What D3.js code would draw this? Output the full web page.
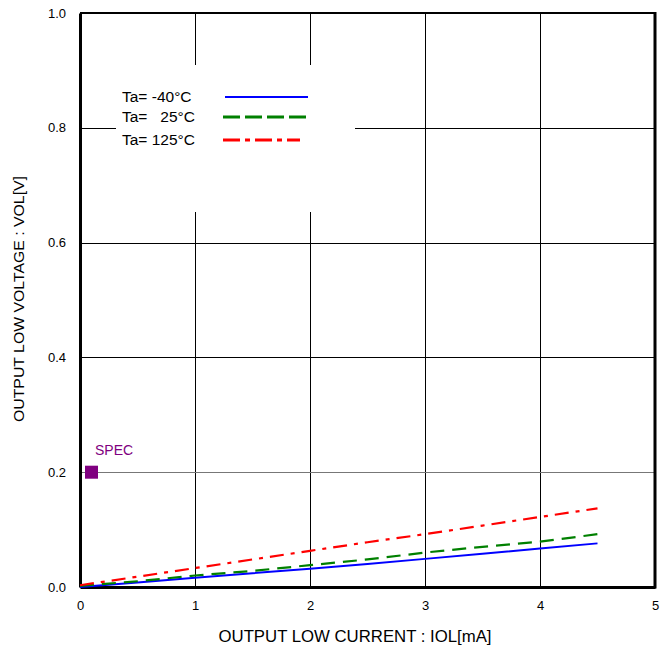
<!DOCTYPE html>
<html><head><meta charset="utf-8">
<script src="https://cdn.jsdelivr.net/npm/d3@7/dist/d3.min.js"></script>
<style>body{margin:0;background:#fff}svg{display:block}text{font-family:"Liberation Sans",Arial,sans-serif}</style>
</head><body><div id="chart"></div>
<script>
const xTicks = [0,1,2,3,4,5];
const yTicks = [0.0,0.2,0.4,0.6,0.8,1.0];
const currents = [0,0.5,1,1.5,2,2.5,3,3.5,4,4.5];
const volM40 = [0,0.008,0.016,0.024,0.032,0.040,0.049,0.058,0.067,0.076];
const vol25  = [0.002,0.010,0.020,0.028,0.038,0.048,0.060,0.070,0.079,0.092];
const vol125 = [0.003,0.018,0.033,0.048,0.063,0.078,0.092,0.107,0.122,0.137];
const seriesNames = ["Ta= -40\u00B0C","Ta=   25\u00B0C","Ta= 125\u00B0C"];
const specPoint = [0.1,0.2];

const W=661,H=652, m={l:80,t:13,r:6,b:65};
const svg=d3.select("#chart").append("svg").attr("width",W).attr("height",H);
const x=d3.scaleLinear().domain([0,5]).range([m.l,W-m.r]);
const y=d3.scaleLinear().domain([0,1]).range([H-m.b,m.t]);

// grid
const g=svg.append("g");
g.selectAll(".vg").data(xTicks.slice(1,-1)).join("line")
  .attr("x1",d=>Math.round(x(d))+0.5).attr("x2",d=>Math.round(x(d))+0.5)
  .attr("y1",y(1)).attr("y2",y(0)).attr("stroke","#000").attr("stroke-width",1);
g.selectAll(".hg").data(yTicks.slice(1,-1)).join("line")
  .attr("y1",d=>Math.round(y(d))+0.5).attr("y2",d=>Math.round(y(d))+0.5)
  .attr("x1",x(0)).attr("x2",x(5)).attr("stroke",(d,i)=>i===0?"#777":"#000").attr("stroke-width",1);

// frame
svg.append("line").attr("x1",x(0)).attr("x2",x(5)).attr("y1",y(1)).attr("y2",y(1)).attr("stroke","#000").attr("stroke-width",2);
svg.append("line").attr("x1",x(5)).attr("x2",x(5)).attr("y1",y(1)-1).attr("y2",y(0)+1.5).attr("stroke","#000").attr("stroke-width",3);

// axes
const xa=svg.append("g").attr("transform",`translate(0,${y(0)})`).call(d3.axisBottom(x).tickValues(xTicks).tickSize(0).tickPadding(14).tickFormat(d3.format("d")));
xa.select(".domain").attr("stroke","#000").attr("stroke-width",3);
xa.selectAll("text").attr("font-size",13).attr("fill","#000").attr("font-family","Liberation Sans, Arial, sans-serif");
const ya=svg.append("g").attr("transform",`translate(${x(0)},0)`).call(d3.axisLeft(y).tickValues(yTicks).tickSize(0).tickPadding(14).tickFormat(d3.format(".1f")));
ya.select(".domain").attr("stroke","#000").attr("stroke-width",3);
ya.selectAll("text").attr("font-size",13).attr("fill","#000").attr("font-family","Liberation Sans, Arial, sans-serif");

svg.append("text").attr("x",355).attr("y",642).attr("text-anchor","middle").attr("font-size",16).attr("textLength",273).attr("lengthAdjust","spacingAndGlyphs").text("OUTPUT LOW CURRENT : IOL[mA]");
svg.append("text").attr("transform","translate(24,299) rotate(-90)").attr("text-anchor","middle").attr("font-size",15.5).attr("textLength",246).attr("lengthAdjust","spacingAndGlyphs").text("OUTPUT LOW VOLTAGE : VOL[V]");

// legend box
svg.append("rect").attr("x",116).attr("y",65).attr("width",239).attr("height",147).attr("fill","#fff");

// series
const line=d3.line().x(d=>x(d[0])).y(d=>y(d[1]));
const series=[
 {v:volM40,c:"#0000ff",dash:null,w:2,lw:2},
 {v:vol25,c:"#008000",dash:"14,8",w:2.2,lw:3.2,ldash:"17,5"},
 {v:vol125,c:"#ff0000",dash:"14,7,4,7",w:2.2,lw:3.2,ldash:"17,5,5,5"}
];
series.forEach((s,i)=>{
  svg.append("path").datum(currents.map((c,j)=>[c,s.v[j]])).attr("d",line)
    .attr("fill","none").attr("stroke",s.c).attr("stroke-width",s.w).attr("stroke-dasharray",s.dash);
});

// legend
const ly=[97,117,140];
seriesNames.forEach((n,i)=>{
  svg.append("text").attr("x",122).attr("y",ly[i]+5).attr("font-size",15.5).style("white-space","pre").attr("xml:space","preserve").text(n);
  svg.append("line").attr("x1",i===0?225:223).attr("x2",i===0?308:(i===1?306:300)).attr("y1",ly[i]).attr("y2",ly[i])
    .attr("stroke",series[i].c).attr("stroke-width",series[i].lw).attr("stroke-dasharray",series[i].ldash||null);
});

// spec
svg.append("rect").attr("x",x(specPoint[0])-6.5).attr("y",y(specPoint[1])-6.5).attr("width",13).attr("height",13).attr("fill","#800080");
svg.append("text").attr("x",95).attr("y",455).attr("font-size",14).attr("fill","#800080").text("SPEC");
</script></body></html>
